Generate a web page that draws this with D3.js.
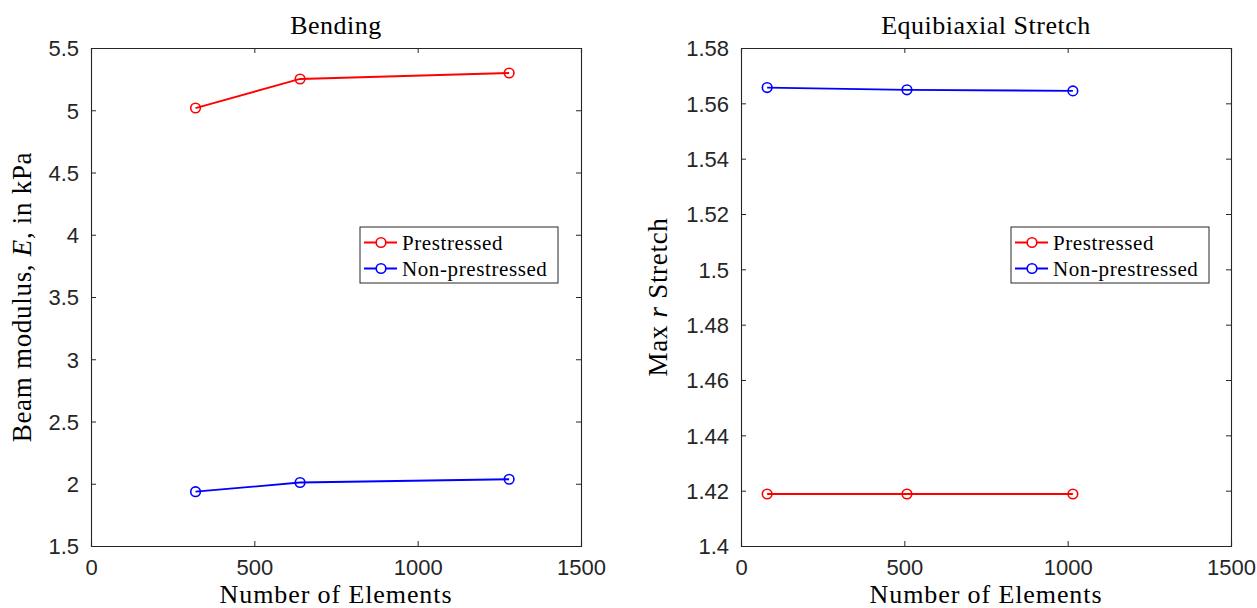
<!DOCTYPE html>
<html>
<head>
<meta charset="utf-8">
<script src="https://cdn.jsdelivr.net/npm/d3@7"></script>
<style>
  html, body { margin: 0; padding: 0; background: #fff; }
  svg { display: block; }
  .tick text { font-family: "Liberation Sans", Arial, sans-serif; font-size: 22px; fill: #262626; }
  .serif { font-family: "Liberation Serif", "Times New Roman", serif; fill: #000; }
</style>
</head>
<body>
<svg id="chart" width="1257" height="608"></svg>
<script>
// ---- Data ----
const seriesNames = ["Prestressed", "Non-prestressed"];
const seriesColors = ["#ff0000", "#0000ff"];

const bendElements = [320, 640, 1280];
const bendPrestressed = [5.018, 5.251, 5.299];
const bendNonPrestressed = [1.936, 2.010, 2.036];

const stretchElements = [80, 508, 1016];
const stretchPrestressed = [1.4188, 1.4188, 1.4188];
const stretchNonPrestressed = [1.5657, 1.5649, 1.5645];

const xTicks = [0, 500, 1000, 1500];
const bendYTicks = [1.5, 2, 2.5, 3, 3.5, 4, 4.5, 5, 5.5];
const stretchYTicks = [1.4, 1.42, 1.44, 1.46, 1.48, 1.5, 1.52, 1.54, 1.56, 1.58];

const svg = d3.select("#chart");

function panel(opts) {
  const { left, right, top, bottom, xDomain, yDomain, yTicks, xs, ys, title, yLabelParts, legend } = opts;
  const x = d3.scaleLinear().domain(xDomain).range([left, right]);
  const y = d3.scaleLinear().domain(yDomain).range([bottom, top]);
  const g = svg.append("g");
  const fmt = d => String(+d.toFixed(4));
  const axColor = "#262626";

  // bottom axis
  const gb = g.append("g").attr("transform", `translate(0,${bottom})`)
    .call(d3.axisBottom(x).tickValues(xTicks).tickSize(-5).tickPadding(0).tickFormat(fmt));
  gb.selectAll(".tick text").attr("dy", null).attr("y", 29);
  // top axis
  g.append("g").attr("transform", `translate(0,${top})`)
    .call(d3.axisTop(x).tickValues(xTicks).tickSize(-5).tickFormat(""));
  // left axis
  const gl = g.append("g").attr("transform", `translate(${left},0)`)
    .call(d3.axisLeft(y).tickValues(yTicks).tickSize(-5).tickPadding(0).tickFormat(fmt));
  gl.selectAll(".tick text").attr("x", -12).attr("dy", "0.36em");
  // right axis
  g.append("g").attr("transform", `translate(${right},0)`)
    .call(d3.axisRight(y).tickValues(yTicks).tickSize(-5).tickFormat(""));

  g.selectAll(".domain").attr("stroke", axColor).attr("stroke-width", 1.1);
  g.selectAll(".tick line").attr("stroke", axColor).attr("stroke-width", 1);

  // series
  const line = d3.line().x(d => x(d[0])).y(d => y(d[1]));
  ys.forEach((vals, i) => {
    const pts = xs.map((v, j) => [v, vals[j]]);
    g.append("path").datum(pts).attr("d", line)
      .attr("fill", "none").attr("stroke", seriesColors[i]).attr("stroke-width", 1.8);
    g.selectAll(null).data(pts).enter().append("circle")
      .attr("cx", d => x(d[0])).attr("cy", d => y(d[1])).attr("r", 4.8)
      .attr("fill", "none").attr("stroke", seriesColors[i]).attr("stroke-width", 1.6);
  });

  const cx = (left + right) / 2;
  // title
  g.append("text").attr("class", "serif").attr("x", cx).attr("y", 34)
    .attr("text-anchor", "middle").style("font-size", "26px").style("letter-spacing", "0.5px")
    .text(title);
  // x label
  g.append("text").attr("class", "serif").attr("x", cx).attr("y", 603)
    .attr("text-anchor", "middle").style("font-size", "26px").style("letter-spacing", "0.9px")
    .text("Number of Elements");
  // y label
  const yl = g.append("text").attr("class", "serif")
    .attr("transform", `translate(${opts.yLabelX},${(top + bottom) / 2}) rotate(-90)`)
    .attr("text-anchor", "middle").style("font-size", "27px").style("letter-spacing", "0.7px");
  yLabelParts.forEach(p => {
    yl.append("tspan").style("font-style", p.italic ? "italic" : "normal").text(p.t);
  });

  // legend
  const lg = g.append("g");
  lg.append("rect").attr("x", legend.x).attr("y", legend.y).attr("width", legend.w).attr("height", legend.h)
    .attr("fill", "#fff").attr("stroke", axColor).attr("stroke-width", 1);
  seriesNames.forEach((name, i) => {
    const ry = legend.y + 15.5 + i * 26;
    lg.append("line").attr("x1", legend.x + 4).attr("x2", legend.x + 37).attr("y1", ry).attr("y2", ry)
      .attr("stroke", seriesColors[i]).attr("stroke-width", 1.8);
    lg.append("circle").attr("cx", legend.x + 21).attr("cy", ry).attr("r", 4.8)
      .attr("fill", "#fff").attr("stroke", seriesColors[i]).attr("stroke-width", 1.6);
    lg.append("text").attr("class", "serif").attr("x", legend.x + 42).attr("y", ry + 7)
      .style("font-size", "21px").style("letter-spacing", "0.6px").text(name);
  });
}

panel({
  left: 91, right: 581, top: 48, bottom: 546,
  xDomain: [0, 1500], yDomain: [1.5, 5.5], yTicks: bendYTicks,
  xs: bendElements, ys: [bendPrestressed, bendNonPrestressed],
  title: "Bending",
  yLabelX: 31,
  yLabelParts: [{t: "Beam modulus, "}, {t: "E", italic: true}, {t: ", in kPa"}],
  legend: { x: 360, y: 227, w: 198, h: 56 }
});

panel({
  left: 741, right: 1231, top: 48, bottom: 546,
  xDomain: [0, 1500], yDomain: [1.4, 1.58], yTicks: stretchYTicks,
  xs: stretchElements, ys: [stretchPrestressed, stretchNonPrestressed],
  title: "Equibiaxial Stretch",
  yLabelX: 667,
  yLabelParts: [{t: "Max "}, {t: "r", italic: true}, {t: " Stretch"}],
  legend: { x: 1011, y: 227, w: 198, h: 56 }
});
</script>
</body>
</html>
